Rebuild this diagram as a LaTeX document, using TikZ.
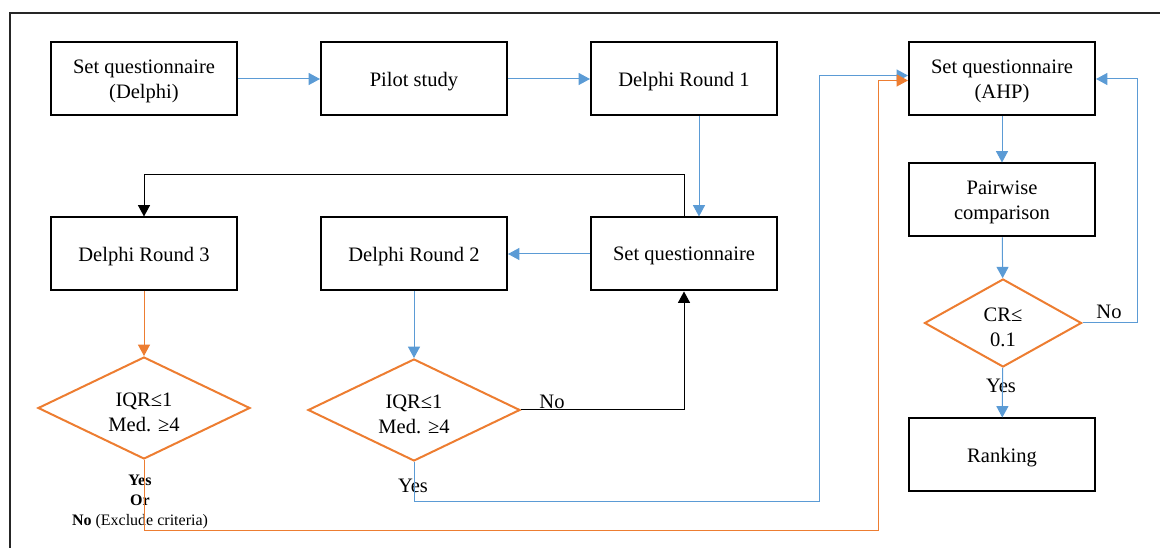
\documentclass[tikz,border=0pt]{standalone}
\usepackage{fontspec}
\setmainfont{Liberation Serif}
\usetikzlibrary{shapes.geometric,arrows.meta,calc}
\definecolor{flowblue}{HTML}{5B9BD5}
\definecolor{floworange}{HTML}{ED7D31}
% tall strut on the first line of a decision, to set its text a little lower
\newcommand\firstline{\rule{0pt}{17pt}}
\begin{document}
\begin{tikzpicture}[x=0.75pt,y=-0.75pt,
  stepbox/.style={draw=black,line width=1.5pt,minimum width=139.5pt,minimum height=54.75pt,
    align=center,inner sep=2pt,text depth=0pt,font=\fontsize{15.4}{19}\selectfont},
  test/.style={diamond,draw=floworange,line width=1.5pt,aspect=2,inner sep=0pt,
    align=center,font=\fontsize{15.4}{19}\selectfont},
  lbl/.style={inner sep=0pt,font=\fontsize{15.4}{19}\selectfont},
  tip/.style={-{Triangle[length=8.5pt,width=9pt]}},
  bluelink/.style={tip,draw=flowblue,line width=0.75pt},
  orangelink/.style={tip,draw=floworange,line width=0.75pt},
  blacklink/.style={tip,draw=black,line width=0.75pt},
]
\useasboundingbox (0,0) rectangle (1160,548);
\draw[line width=1pt,black!85] (10,548) -- (10,13) -- (1160,13);

% Delphi stage
\node[stepbox] (sqd) at (144,79) {Set questionnaire\\(Delphi)};
\node[stepbox] (pilot) at (414,79) {Pilot study};
\node[stepbox] (r1) at (684,79) {Delphi Round 1};
\node[stepbox] (sq) at (684,254) {Set questionnaire};
\node[stepbox] (r2) at (414,254) {Delphi Round 2};
\node[stepbox] (r3) at (144,254) {Delphi Round 3};
\node[test,minimum width=159pt,minimum height=76.5pt] (q3) at (144,408) {\firstline IQR≤1\\Med. ≥4};
\node[test,minimum width=159pt,minimum height=76.5pt] (q2) at (414,410) {\firstline IQR≤1\\Med. ≥4};

% AHP stage
\node[stepbox] (ahp) at (1002,79) {Set questionnaire\\(AHP)};
\node[stepbox] (pair) at (1002,200) {Pairwise\\comparison};
\node[test,minimum width=117.75pt,minimum height=66pt] (cr) at (1003,323) {\firstline CR≤\\0.1};
\node[stepbox] (rank) at (1002,455) {Ranking};

% labels
\node[lbl] (no2) at (552,402) {No};
\node[lbl] (no3) at (1109,312) {No};
\node[lbl] (yes3) at (1001,386) {Yes};
\node[lbl] (yes2) at (413,486) {Yes};
\node[align=center,inner sep=0pt,font=\fontsize{12}{15}\selectfont] (out3) at (140,502)
  {\textbf{Yes}\\\textbf{Or}\\\textbf{No} (Exclude criteria)};

% routing points
\coordinate (yesrun) at (819,502);
\coordinate (allrun) at (878,531);

% connectors
\draw[bluelink] (sqd) -- (pilot);
\draw[bluelink] (pilot) -- (r1);
\draw[bluelink] ([xshift=11.25pt]r1.south) -- ([xshift=11.25pt]sq.north);
\draw[bluelink] (sq) -- (r2);
\draw[blacklink] (sq.north) -- ++(0,-42) -| (r3.north);
\draw[bluelink] (r2) -- (q2);
\draw[orangelink] (r3) -- (q3);
\draw[blacklink] (q2.east) -| (sq.south);
\draw[bluelink] (q2.south) |- (yesrun) |- ([yshift=2.6pt]ahp.west);
\draw[orangelink] (q3.south) |- (allrun) |- ([yshift=-1.1pt]ahp.west);
\draw[bluelink] (ahp) -- (pair);
\draw[bluelink] (pair) -- (cr);
\draw[bluelink] (cr) -- (rank);
\draw[bluelink] (cr.east) -- ++(55,0) |- (ahp.east);
\end{tikzpicture}
\end{document}
